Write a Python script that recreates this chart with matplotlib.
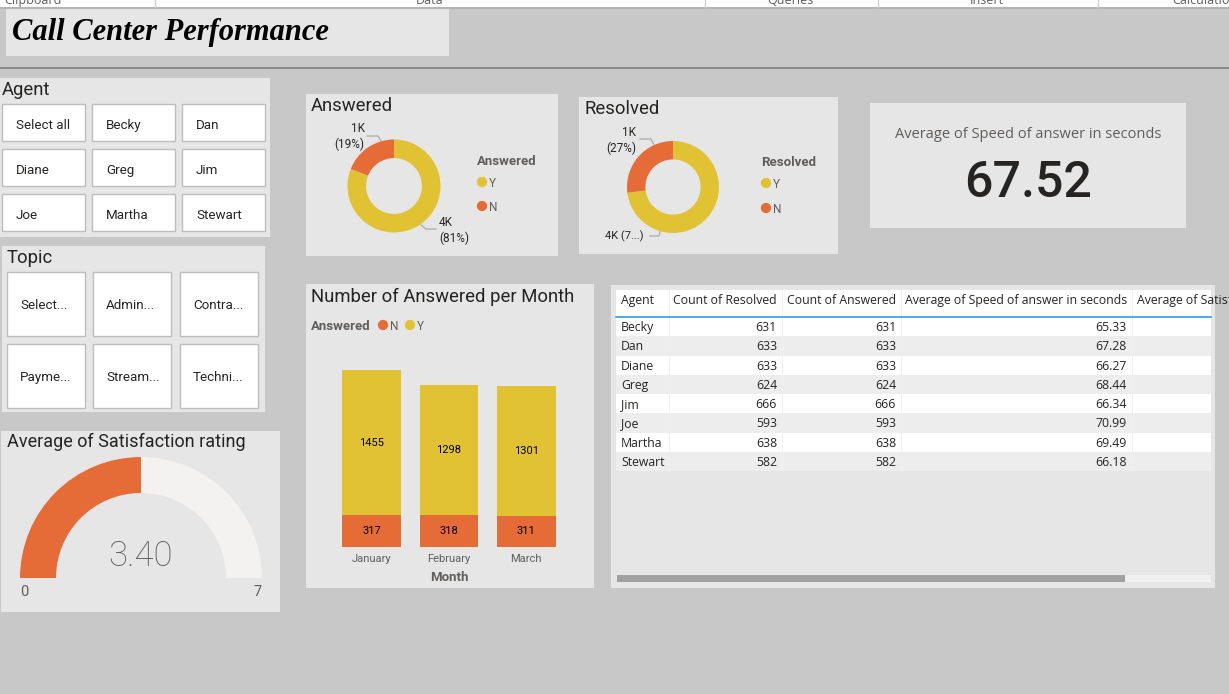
import matplotlib
matplotlib.use("Agg")
import matplotlib.pyplot as plt
from matplotlib.patches import Rectangle, Wedge
from matplotlib.transforms import ScaledTranslation

W, H = 1229, 694

# ===== Data =====
agent_buttons = ["Select all", "Becky", "Dan", "Diane", "Greg", "Jim", "Joe", "Martha", "Stewart"]
topic_buttons = ["Select...", "Admin...", "Contra...", "Payme...", "Stream...", "Techni..."]

donut_labels = ["Y", "N"]
answered_share = [81, 19]
resolved_share = [73, 27]

months = ["January", "February", "March"]
answered_n = [317, 318, 311]
answered_y = [1455, 1298, 1301]

table_header = ["Agent", "Count of Resolved", "Count of Answered",
                "Average of Speed of answer in seconds", "Average of Satisfaction rating"]
agents = ["Becky", "Dan", "Diane", "Greg", "Jim", "Joe", "Martha", "Stewart"]
count_resolved = [631, 633, 633, 624, 666, 593, 638, 582]
count_answered = [631, 633, 633, 624, 666, 593, 638, 582]
avg_speed = [65.33, 67.28, 66.27, 68.44, 66.34, 70.99, 69.49, 66.18]

kpi_value = 67.52
gauge_label = 3.40
gauge_fill = 3.5  # the arc stops at the top of the gauge in the picture
gauge_min, gauge_max = 0, 7

ribbon_labels = ["Clipboard", "Data", "Queries", "Insert", "Calculations"]
ribbon_x = [4, 416, 767, 970, 1172]
ribbon_seps = [155, 705, 878, 1098]

# ===== Styles =====
BG = "#C8C8C8"
PANEL = "#E6E6E6"
YELLOW = "#E1C233"
ORANGE = "#E66C37"
DARK = "#252423"
GREY = "#605E5C"
DIN = "Roboto"
SEGOE = "Open Sans"

fig = plt.figure(figsize=(W / 100, H / 100), dpi=100, facecolor=BG)
bg = fig.add_axes([0, 0, 1, 1])
bg.set_xlim(0, W)
bg.set_ylim(H, 0)
bg.axis("off")


def box(x0, y0, x1, y1, color=PANEL, edge="none", lw=0, z=1):
    bg.add_patch(Rectangle((x0, y0), x1 - x0, y1 - y0, facecolor=color, edgecolor=edge, linewidth=lw, zorder=z))


def label(x, y, s, size=9, color=DARK, ha="left", va="center", family=DIN, **kw):
    # +1: text sits about a pixel lower in the reference
    return bg.text(x, y + 1, s, fontsize=size, color=color, ha=ha, va=va, family=family, zorder=5, **kw)


def px_axes(x0, y0, x1, y1):
    ax = fig.add_axes([x0 / W, 1 - y1 / H, (x1 - x0) / W, (y1 - y0) / H])
    ax.patch.set_alpha(0)
    return ax


def buttons(names, xs, ys, text_dx, text_dy):
    for i, name in enumerate(names):
        x0, x1 = xs[i % 3]
        y0, y1 = ys[i // 3]
        box(x0, y0, x1, y1, "white", "#BDBDBD", 1, 2)
        label(x0 + text_dx, (y0 + y1) / 2 + text_dy, name, 9.6, DARK)


def donut(cx, cy, r, share):
    ax = px_axes(cx - r, cy - r, cx + r, cy + r)
    ax.pie(share, colors=[YELLOW, ORANGE], startangle=90, counterclock=False, radius=1,
           wedgeprops={"width": 0.4, "linewidth": 0})
    ax.set_xlim(-1, 1)
    ax.set_ylim(-1, 1)


def donut_legend(x, y_title, y_y, y_n, title):
    label(x, y_title, title, 9.5, GREY, fontweight="bold")
    bg.scatter([x + 5, x + 5], [y_y, y_n], s=55, c=[YELLOW, ORANGE], linewidths=0, zorder=5)
    label(x + 12, y_y, donut_labels[0], 8.5, GREY)
    label(x + 12, y_n, donut_labels[1], 8.5, GREY)


# ===== Ribbon =====
box(0, 0, W, 7, "white", z=3)
box(0, 7, W, 9, "#B4B4B4", z=2)
for x, s in zip(ribbon_x, ribbon_labels):
    label(x, -1, s, 9, GREY, va="center", family=SEGOE)
for x in ribbon_seps:
    bg.plot([x, x], [0, 7], color="#D0D0D0", lw=1, zorder=4)

# ===== Title =====
box(6, 8, 449, 56)
label(12, 31, "Call Center Performance", 22, "black", family="Liberation Serif",
      fontweight="bold", fontstyle="italic")
box(0, 67, W, 69, "#8A8A8A")

# ===== Slicers =====
box(0, 78, 270, 237)
label(2, 89, "Agent", 13.3)
buttons(agent_buttons, [(2, 85), (92, 175), (182, 265)], [(104, 141), (149, 186), (194, 231)], 14, 2)

box(2, 246, 265, 412)
label(7, 257, "Topic", 13.3)
buttons(topic_buttons, [(7, 85), (93, 171), (180, 258)], [(272, 336), (344, 408)], 13, 0)

# ===== Gauge =====
box(1, 431, 280, 612)
label(7, 441, "Average of Satisfaction rating", 13)
gx, gy, gr, gw = 141, 578, 121, 36
fill_angle = 180 * (1 - (gauge_fill - gauge_min) / (gauge_max - gauge_min))
# y axis of bg is inverted, so angles run clockwise on screen
bg.add_patch(Wedge((gx, gy), gr, 180, 360, width=gw, facecolor="#F3F2F1", linewidth=0, zorder=2))
bg.add_patch(Wedge((gx, gy), gr, 180, 360 - fill_angle, width=gw, facecolor=ORANGE, linewidth=0, zorder=3))
label(gx, 555, f"{gauge_label:.2f}", 25, GREY, ha="center", fontweight="light")
label(20, 591, str(gauge_min), 10.5, GREY)
label(262, 591, str(gauge_max), 10.5, GREY, ha="right")

# ===== Answered donut =====
box(306, 94, 558, 256)
label(311, 105, "Answered", 13.3)
donut(394, 186, 46.5, answered_share)
donut_legend(477, 160, 182, 206, "Answered")
label(365, 127, "1K", 8.5, ha="right")
label(364, 143, "(19%)", 8.5, ha="right")
bg.plot([367, 378, 381], [136, 136, 141], color="#B0B0B0", lw=1, zorder=4)
label(439, 221, "4K", 8.5)
label(439, 237, "(81%)", 8.5)
bg.plot([421, 426, 436], [225, 229, 229], color="#B0B0B0", lw=1, zorder=4)

# ===== Resolved donut =====
box(579, 97, 838, 254)
label(584, 108, "Resolved", 13.3)
donut(673, 187, 46, resolved_share)
donut_legend(761, 161, 183, 208, "Resolved")
label(636, 131, "1K", 8.5, ha="right")
label(636, 147, "(27%)", 8.5, ha="right")
bg.plot([640, 651, 654], [139, 139, 145], color="#B0B0B0", lw=1, zorder=4)
label(605, 235, "4K (7...)", 8)
bg.plot([650, 659, 660], [236, 236, 232], color="#B0B0B0", lw=1, zorder=4)

# ===== KPI card =====
box(870, 103, 1186, 228)
label(1028, 133, "Average of Speed of answer in seconds", 10.5, GREY, ha="center", family=SEGOE)
label(1028, 182, f"{kpi_value:.2f}", 36, DARK, ha="center", fontweight="medium")

# ===== Stacked bars =====
box(306, 284, 594, 588)
label(311, 296, "Number of Answered per Month", 13.3)
label(311, 325, "Answered", 9.5, GREY, fontweight="bold")
bg.scatter([383, 410], [325, 325], s=55, c=[ORANGE, YELLOW], linewidths=0, zorder=5)
label(390, 325, "N", 8.5, GREY)
label(417, 325, "Y", 8.5, GREY)

ax = px_axes(333, 347, 565, 547)
ax.bar(range(len(months)), answered_n, width=0.76, color=ORANGE)
ax.bar(range(len(months)), answered_y, width=0.76, bottom=answered_n, color=YELLOW)
for i, (n, y) in enumerate(zip(answered_n, answered_y)):
    ax.text(i, n / 2, str(n), ha="center", va="center", fontsize=8, color="black", family=DIN)
    ax.text(i, n + y / 2, str(y), ha="center", va="center", fontsize=8, color="black", family=DIN)
ax.set_xlim(-0.5, 2.5)
ax.set_ylim(0, 2000)
ax.set_yticks([])
ax.set_xticks(range(len(months)))
ax.set_xticklabels(months, fontsize=8, color=GREY, family=DIN)
# month labels sit 2 px right of the bar centres
shift = ScaledTranslation(2 / 100, 0, fig.dpi_scale_trans)
for t in ax.get_xticklabels():
    t.set_transform(t.get_transform() + shift)
ax.tick_params(axis="x", length=0, pad=5)
ax.set_xlabel("Month", fontsize=9.5, color=GREY, fontweight="bold", family=DIN, labelpad=5)
for s in ax.spines.values():
    s.set_visible(False)

# ===== Table =====
box(611, 285, 1215, 588)
tx0, tx1 = 616, 1211
col_edges = [tx0, 669, 782, 901, 1132, tx1]
header_top, header_bottom = 290, 317
row_h = 19.25
box(tx0, header_top, tx1, header_bottom, "white")
clip = Rectangle((tx0, header_top), tx1 - tx0, 300, transform=bg.transData)
for j, h in enumerate(table_header):
    if j == 0 or j == len(table_header) - 1:
        t = label(col_edges[j] + 5, 299, h, 8.8, DARK, family=SEGOE)
    else:
        t = label(col_edges[j + 1] - 5, 299, h, 8.8, DARK, ha="right", family=SEGOE)
    t.set_clip_path(clip)
for i, a in enumerate(agents):
    y0 = header_bottom + i * row_h
    box(tx0, y0, tx1, y0 + row_h, "white" if i % 2 == 0 else "#EDEDED")
    ym = y0 + row_h / 2
    label(col_edges[0] + 5, ym, a, 8.8, DARK, family=SEGOE)
    label(col_edges[2] - 5, ym, str(count_resolved[i]), 8.8, DARK, ha="right", family=SEGOE)
    label(col_edges[3] - 5, ym, str(count_answered[i]), 8.8, DARK, ha="right", family=SEGOE)
    label(col_edges[4] - 5, ym, f"{avg_speed[i]:.2f}", 8.8, DARK, ha="right", family=SEGOE)
for x in col_edges[1:-1]:
    bg.plot([x, x], [header_top, header_bottom + row_h * len(agents)], color="#F0F0F0", lw=0.7, zorder=3)
bg.plot([tx0, tx1], [header_bottom - 0.5, header_bottom - 0.5], color="#2F9BF0", lw=1.2, zorder=4)
box(617, 575, 1211, 582, "#F0F0F0", z=2)
box(617, 575, 1125, 582, "#A0A0A0", z=3)

fig.savefig("out.png", dpi=100, facecolor=BG)
